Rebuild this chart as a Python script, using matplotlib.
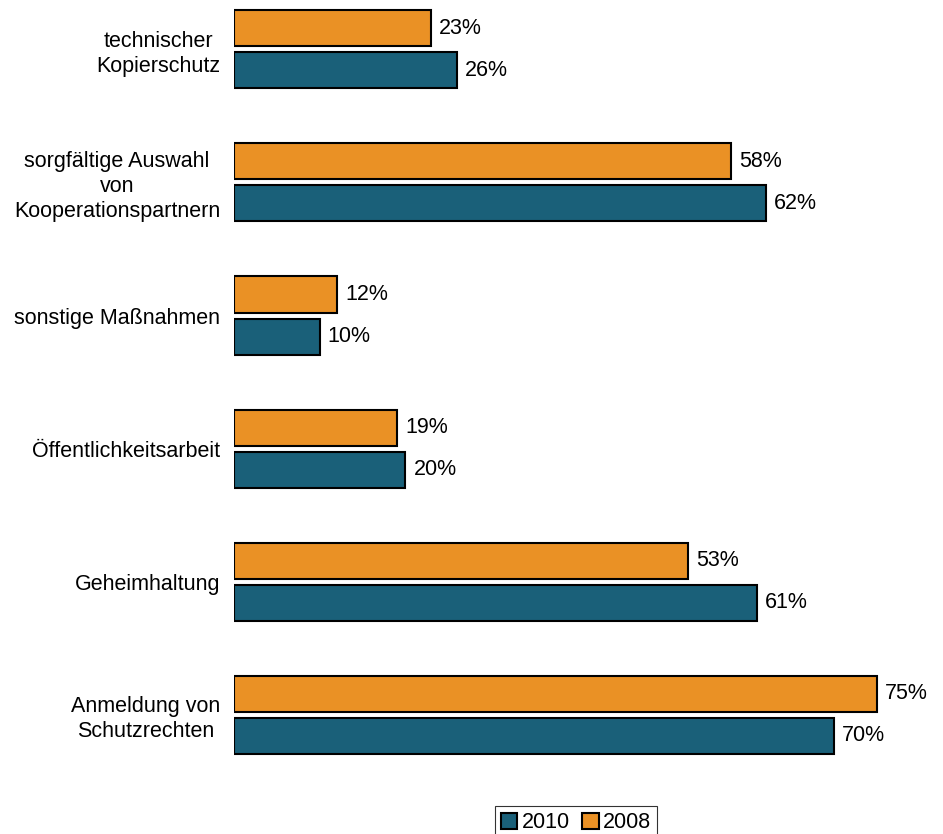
import matplotlib.pyplot as plt
import numpy as np

plt.rcParams['font.family'] = ['Liberation Sans', 'DejaVu Sans']

categories = ['technischer\nKopierschutz', 'sorgfältige Auswahl\nvon\nKooperationspartnern',
              'sonstige Maßnahmen', 'Öffentlichkeitsarbeit', 'Geheimhaltung',
              'Anmeldung von\nSchutzrechten']
vals_2008 = [23, 58, 12, 19, 53, 75]
vals_2010 = [26, 62, 10, 20, 61, 70]

c2008 = '#EA9125'
c2010 = '#1A6079'

W, H = 943, 834
fig = plt.figure(figsize=(W / 100, H / 100), dpi=100)
ax = fig.add_axes([234 / W, 1 - 770 / H, 1 - 234 / W, 770 / H])

y = np.arange(len(categories))
h = 36 / 133
off = 21 / 133
b1 = ax.barh(y - off, vals_2008, height=h, color=c2008, edgecolor='black', linewidth=1.5, label='2008')
b2 = ax.barh(y + off, vals_2010, height=h, color=c2010, edgecolor='black', linewidth=1.5, label='2010')

for bars, vals in ((b1, vals_2008), (b2, vals_2010)):
    for bar, v in zip(bars, vals):
        ax.text(v + 0.95, bar.get_y() + bar.get_height() / 2, f'{v}%',
                va='center', ha='left', fontsize=15.5)

ax.set_xlim(0, (W - 234) / 8.573)
ax.set_ylim(5.417, -0.372)
ax.set_yticks(y)
ax.set_yticklabels(categories, fontsize=15.5, multialignment='center', linespacing=1.25)
ax.tick_params(axis='y', length=0, pad=10)
ax.set_xticks([])
for s in ax.spines.values():
    s.set_visible(False)

leg = fig.legend([b2, b1], ['2010', '2008'], loc='upper center',
                 bbox_to_anchor=(576 / W, 1 - 795 / H), ncol=2, fontsize=15.5,
                 frameon=True, fancybox=False, edgecolor='black',
                 handlelength=0.75, handleheight=0.75, handletextpad=0.2,
                 columnspacing=0.6, borderpad=0.3)
leg.get_frame().set_linewidth(0.8)

fig.savefig('out.png', dpi=100)
